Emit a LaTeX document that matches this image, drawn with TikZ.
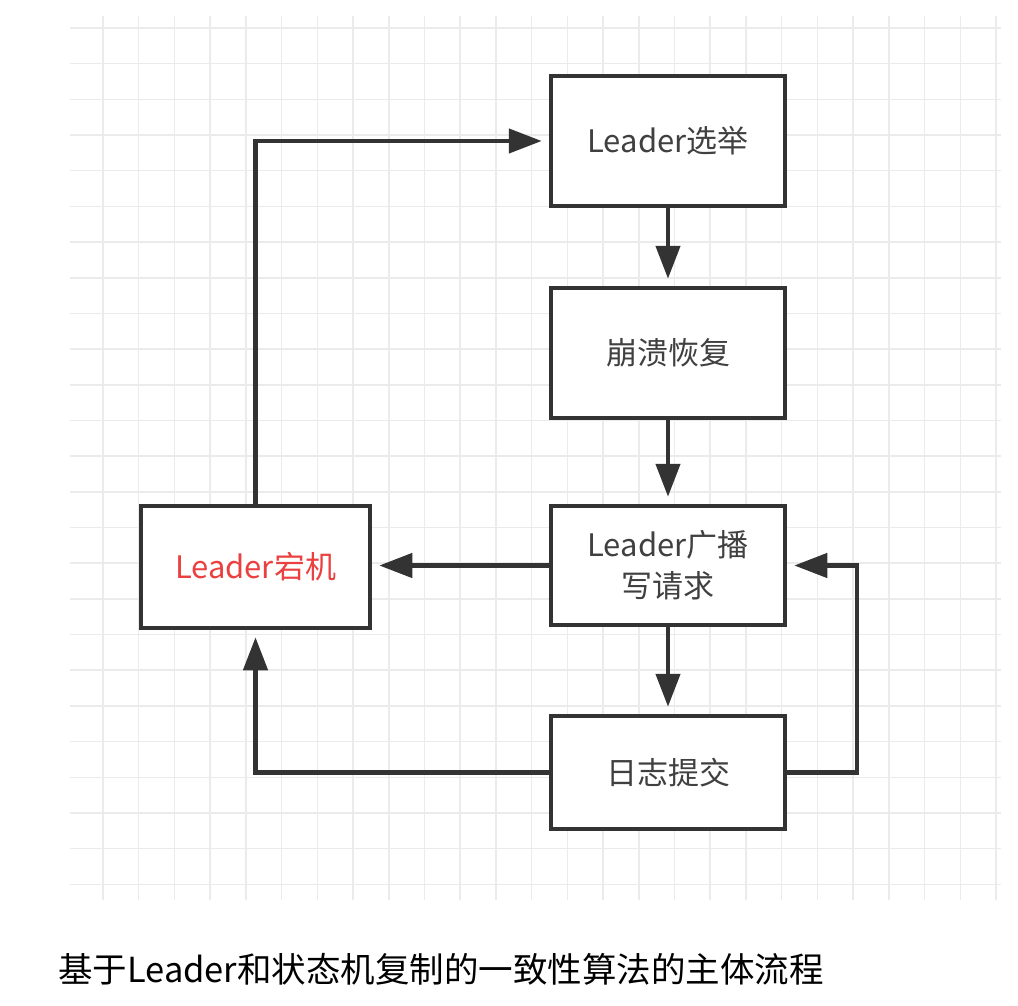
\documentclass[tikz,border=0pt]{standalone}
\usepackage{fontspec}
\setmainfont{Noto Sans CJK SC}
\usetikzlibrary{arrows.meta}
\definecolor{boxline}{HTML}{333333}
\definecolor{textgray}{HTML}{404040}
\definecolor{gridgray}{HTML}{EBEBEB}
\definecolor{alertred}{HTML}{EB4040}
\begin{document}
\begin{tikzpicture}[x=1pt,y=-1pt,
  box/.style={draw=boxline, line width=4.5pt, fill=white, inner sep=0pt,
    text=textgray, font=\fontsize{31}{41}\selectfont, align=center},
  conn/.style={draw=boxline, line width=4.5pt, line join=miter,
    -{Triangle[length=33pt,width=24pt]}, shorten >=7pt},
  gridline/.style={draw=gridgray, line width=1.5pt}
]
\useasboundingbox (0,0) rectangle (1018,1006);
\fill[white] (0,0) rectangle (1018,1006);
% grid
\foreach \i in {0,...,25} \draw[gridline] ({103+35.72*\i},16) -- ({103+35.72*\i},900);
\foreach \j in {0,...,24} \draw[gridline] (70,{28+35.68*\j}) -- (1001,{28+35.68*\j});
% boxes
\node[box, minimum width=234pt, minimum height=130pt] (xj) at (668,141) {Leader选举};
\node[box, minimum width=234pt, minimum height=130pt] (bk) at (668,353) {崩溃恢复};
\node[box, minimum width=234pt, minimum height=119pt] (gb) at (668,565.5) {Leader广播\\写请求};
\node[box, minimum width=234pt, minimum height=113pt] (rz) at (668,772.5) {日志提交};
\node[box, minimum width=229pt, minimum height=122pt, text=alertred] (dj) at (255.5,567) {Leader宕机};
\coordinate (rc) at (857,772.5);
% connectors
\draw[conn] (xj) -- (bk);
\draw[conn] (bk) -- (gb);
\draw[conn] (gb) -- (rz);
\draw[conn] (gb.west) -- (gb.west -| dj.east);
\draw[conn] (dj.north) |- (xj.west);
\draw[conn] (rz.west) -| (dj.south);
\draw[conn] (rz.east) -- (rc) |- (gb.east);
% caption
\node[anchor=west, inner sep=0pt, font=\fontsize{34.5}{40}\selectfont, text=black] (cap) at (58,969) {基于Leader和状态机复制的一致性算法的主体流程};
\end{tikzpicture}
\end{document}
